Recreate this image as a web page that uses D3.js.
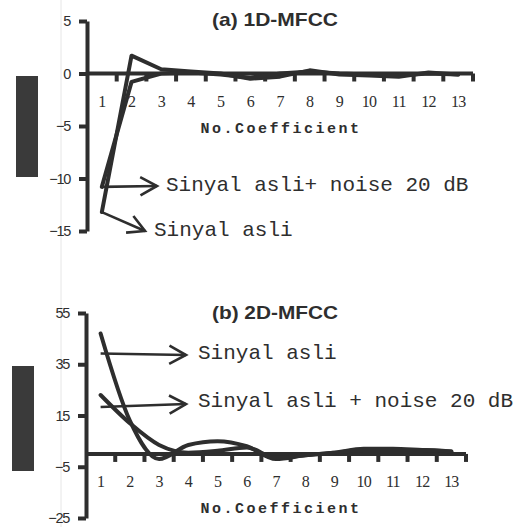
<!DOCTYPE html>
<html>
<head>
<meta charset="utf-8">
<script src="https://cdn.jsdelivr.net/npm/d3@7"></script>
<style>
  html, body { margin: 0; padding: 0; background: #fff; }
  svg { display: block; }
</style>
</head>
<body>
<svg id="chart" width="526" height="527"></svg>
<script>
// MFCC coefficient index
const coefficients = ["1","2","3","4","5","6","7","8","9","10","11","12","13"];

// (a) 1D-MFCC
const asli1D  = [-13.2, 1.7, 0.4, 0.2, 0.0, -0.5, -0.3, 0.3, -0.1, -0.2, -0.3, 0.1, -0.1];
const noise1D = [-10.8, -0.8, 0.0, 0.1, -0.1, -0.4, 0.0, 0.2, 0.0, -0.1, -0.2, 0.0, -0.1];
const yTicks1D = [5, 0, -5, -10, -15];

// (b) 2D-MFCC
const asli2D  = [47, 13, -2, 3.5, 5, 3, -2, -0.5, 0.5, 2, 2, 1.5, 1];
const noise2D = [23, 12, 3.5, 0.5, 1.2, 2.5, -1.5, -0.5, 0.5, 1.5, 1.5, 1.5, 1];
const yTicks2D = [55, 35, 15, -5, -25];

const INK = "#2e2e2e";
const svg = d3.select("#chart");

// faint vertical fold line of the page
svg.append("line").attr("x1", 61).attr("x2", 61).attr("y1", 0).attr("y2", 527)
  .attr("stroke", "#e6e6e6").attr("stroke-width", 1);

function panel(cfg) {
  const g = svg.append("g");
  const x = d3.scaleBand().domain(coefficients).range([cfg.x0, cfg.x1]).padding(0);
  const y = d3.scaleLinear().domain(cfg.yDomain).range(cfg.yRange);
  const cx = c => x(c) + x.bandwidth() / 2;

  // dark bar left of the axis
  g.append("rect").attr("x", cfg.bar[0]).attr("y", cfg.bar[1])
    .attr("width", cfg.bar[2]).attr("height", cfg.bar[3]).attr("fill", "#3a3a3a");

  // y axis
  const yAxis = d3.axisLeft(y).tickValues(cfg.yTicks).tickSize(8).tickSizeOuter(0).tickPadding(9);
  const ya = g.append("g").attr("transform", `translate(${cfg.x0},0)`).call(yAxis);
  ya.select(".domain").attr("stroke", INK).style("stroke-width", "4px");
  ya.selectAll(".tick line").attr("stroke", INK).style("stroke-width", "4px");
  ya.selectAll("text").attr("fill", INK)
    .style("font-family", "'Liberation Sans', Arial, sans-serif")
    .style("font-size", "14.5px").style("letter-spacing", "-1.3px");

  // x axis along zero, ticks at category boundaries
  const y0 = y(0);
  g.append("line").attr("x1", cfg.x0).attr("x2", cfg.x1).attr("y1", y0).attr("y2", y0)
    .attr("stroke", INK).style("stroke-width", "4px");
  g.selectAll(".xt").data(coefficients).enter().append("line")
    .attr("x1", c => x(c) + x.bandwidth()).attr("x2", c => x(c) + x.bandwidth())
    .attr("y1", y0).attr("y2", y0 + 8)
    .attr("stroke", INK).style("stroke-width", "4px");
  g.selectAll(".xl").data(coefficients).enter().append("text")
    .attr("x", c => cx(c)).attr("y", y0 + 33)
    .attr("text-anchor", "middle").attr("fill", INK)
    .style("font-family", "'Liberation Serif', 'Times New Roman', serif")
    .style("font-size", "16px").style("letter-spacing", "-0.8px")
    .text(c => c);

  g.append("text").attr("x", 281).attr("y", y0 + 59).attr("text-anchor", "middle")
    .attr("fill", INK)
    .style("font-family", "'Liberation Mono', 'Courier New', monospace")
    .style("font-weight", "bold").style("font-size", "15px").style("letter-spacing", "2.5px")
    .text("No.Coefficient");

  // title
  g.append("text").attr("x", cfg.titleX).attr("y", cfg.titleY)
    .attr("fill", INK)
    .attr("textLength", 126).attr("lengthAdjust", "spacingAndGlyphs")
    .style("font-family", "'Liberation Sans', Arial, sans-serif")
    .style("font-weight", "bold").style("font-size", "19px")
    .text(cfg.title);

  // series lines
  const line = d3.line().x((d, i) => cx(coefficients[i])).y(d => y(d)).curve(cfg.curve);
  [cfg.seriesA, cfg.seriesB].forEach(s => {
    g.append("path").datum(s).attr("d", line)
      .attr("fill", "none").attr("stroke", INK).style("stroke-width", "4px")
      .attr("stroke-linejoin", "round").attr("stroke-linecap", "round");
  });

  // annotation arrows with labels
  cfg.notes.forEach(n => {
    const sx = cx(coefficients[n.from]);
    const sy = y(n.series[n.from]) + (n.dy || 0);
    const tx = n.tip[0], ty = n.tip[1];
    const ang = Math.atan2(ty - sy, tx - sx);
    const L = 19, W = 0.5;
    g.append("line").attr("x1", sx).attr("y1", sy).attr("x2", tx).attr("y2", ty)
      .attr("stroke", INK).style("stroke-width", "2.6px");
    g.append("path")
      .attr("d", `M${tx - L * Math.cos(ang - W)},${ty - L * Math.sin(ang - W)}L${tx},${ty}L${tx - L * Math.cos(ang + W)},${ty - L * Math.sin(ang + W)}`)
      .attr("fill", "none").attr("stroke", INK).style("stroke-width", "2.6px").attr("stroke-linejoin", "miter");
    g.append("text").attr("x", n.text[0]).attr("y", n.text[1])
      .attr("dominant-baseline", "central").attr("fill", INK)
      .style("font-family", "'Liberation Mono', 'Courier New', monospace")
      .style("font-size", "21px")
      .text(n.label);
  });
}

panel({
  x0: 87, x1: 473, yDomain: [-15, 5], yRange: [231, 21], yTicks: yTicks1D,
  bar: [16, 76, 22, 101],
  title: "(a) 1D-MFCC", titleX: 212, titleY: 26,
  seriesA: asli1D, seriesB: noise1D, curve: d3.curveLinear,
  notes: [
    { series: noise1D, from: 0, tip: [157, 186], text: [166, 185], label: "Sinyal asli+ noise 20 dB" },
    { series: asli1D, from: 0, tip: [145, 231], text: [154, 230], label: "Sinyal asli" }
  ]
});

panel({
  x0: 86, x1: 466, yDomain: [-25, 55], yRange: [518, 313], yTicks: yTicks2D,
  bar: [12, 366, 22, 105],
  title: "(b) 2D-MFCC", titleX: 212, titleY: 319,
  seriesA: asli2D, seriesB: noise2D, curve: d3.curveMonotoneX,
  notes: [
    { series: asli2D, from: 0, dy: 20, tip: [186, 355], text: [198, 353], label: "Sinyal asli" },
    { series: noise2D, from: 0, dy: 12, tip: [186, 404], text: [198, 401], label: "Sinyal asli + noise 20 dB" }
  ]
});
</script>
</body>
</html>
